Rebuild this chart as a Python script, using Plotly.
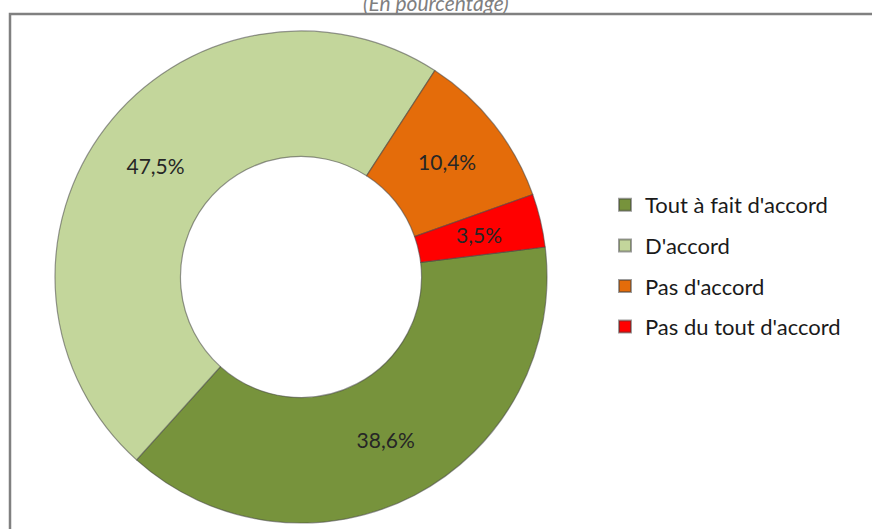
import math
import plotly.graph_objects as go

# Survey answers and their shares (percent)
categories = ["Tout à fait d'accord", "D'accord", "Pas d'accord", "Pas du tout d'accord"]
shares = [38.6, 47.5, 10.4, 3.5]
colors = ["#77933C", "#C3D69B", "#E46C0A", "#FF0000"]
subtitle = "(En pourcentage)"

W, H = 872, 529
ML, MR, MT, MB = 10, 0, 14, 0
plot_w, plot_h = W - ML - MR, H - MT - MB

# Ring centre, outer radius in pixels, hole ratio and start angle
cx, cy, r = 301, 277, 246
hole = 0.49
start_deg = 83

label_font = dict(family="Lato", size=21, color="#262626")


def px_to_paper_x(px):
    return (px - ML) / plot_w


def px_to_paper_y(py):
    return (H - MB - py) / plot_h


def fmt(v):
    return f"{v:.1f}".replace(".", ",") + "%"


# The thinnest slice gets its label placed on the middle of the ring
small = [v < 5 for v in shares]
slice_text = ["" if s else fmt(v) for v, s in zip(shares, small)]

fig = go.Figure()

fig.add_trace(go.Pie(
    labels=categories,
    values=shares,
    hole=hole,
    sort=False,
    direction="clockwise",
    rotation=start_deg,
    marker=dict(colors=colors, line=dict(color="rgba(70,70,70,0.55)", width=1.2)),
    text=slice_text,
    texttemplate="%{text}",
    textposition="inside",
    insidetextorientation="horizontal",
    textfont=label_font,
    showlegend=False,
    hoverinfo="label+value",
    domain=dict(
        x=[px_to_paper_x(cx - r), px_to_paper_x(cx + r)],
        y=[px_to_paper_y(cy + r), px_to_paper_y(cy - r)],
    ),
))

annotations = [dict(
    text=subtitle, xref="paper", yref="paper",
    x=px_to_paper_x(436), y=px_to_paper_y(2),
    xanchor="center", yanchor="middle", showarrow=False,
    font=dict(family="Lato", size=21, color="#7f7f7f", style="italic"),
)]

total = sum(shares)
cum = 0.0
mid_r = r * (1 + hole) / 2
for v, s in zip(shares, small):
    if s:
        ang = math.radians(start_deg + (cum + v / 2) / total * 360)
        annotations.append(dict(
            text=fmt(v), xref="paper", yref="paper",
            x=px_to_paper_x(cx + mid_r * math.sin(ang)),
            y=px_to_paper_y(cy - mid_r * math.cos(ang)),
            xanchor="center", yanchor="middle", showarrow=False,
            font=label_font,
        ))
    cum += v

# Legend entries, one group per answer so the rows are spaced apart
for name, col in zip(categories, colors):
    fig.add_trace(go.Scatter(
        x=[None], y=[None], mode="markers", name=name, legendgroup=name,
        marker=dict(symbol="square", size=10, color=col,
                    line=dict(color="rgba(60,60,60,0.5)", width=1)),
    ))

fig.update_layout(
    width=W, height=H,
    margin=dict(l=ML, r=MR, t=MT, b=MB),
    paper_bgcolor="white",
    plot_bgcolor="white",
    xaxis=dict(visible=False),
    yaxis=dict(visible=False),
    legend=dict(
        x=px_to_paper_x(605), y=px_to_paper_y(184),
        xanchor="left", yanchor="top",
        font=dict(family="Lato", size=22, color="#1a1a1a"),
        tracegroupgap=9,
        itemsizing="constant",
        bgcolor="rgba(0,0,0,0)",
    ),
    annotations=annotations,
    shapes=[dict(
        type="rect", xref="paper", yref="paper",
        x0=px_to_paper_x(10), x1=px_to_paper_x(880),
        y0=px_to_paper_y(540), y1=px_to_paper_y(14),
        line=dict(color="#808080", width=2.5),
        fillcolor="rgba(0,0,0,0)", layer="below",
    )],
)

fig.write_html("out.html")
